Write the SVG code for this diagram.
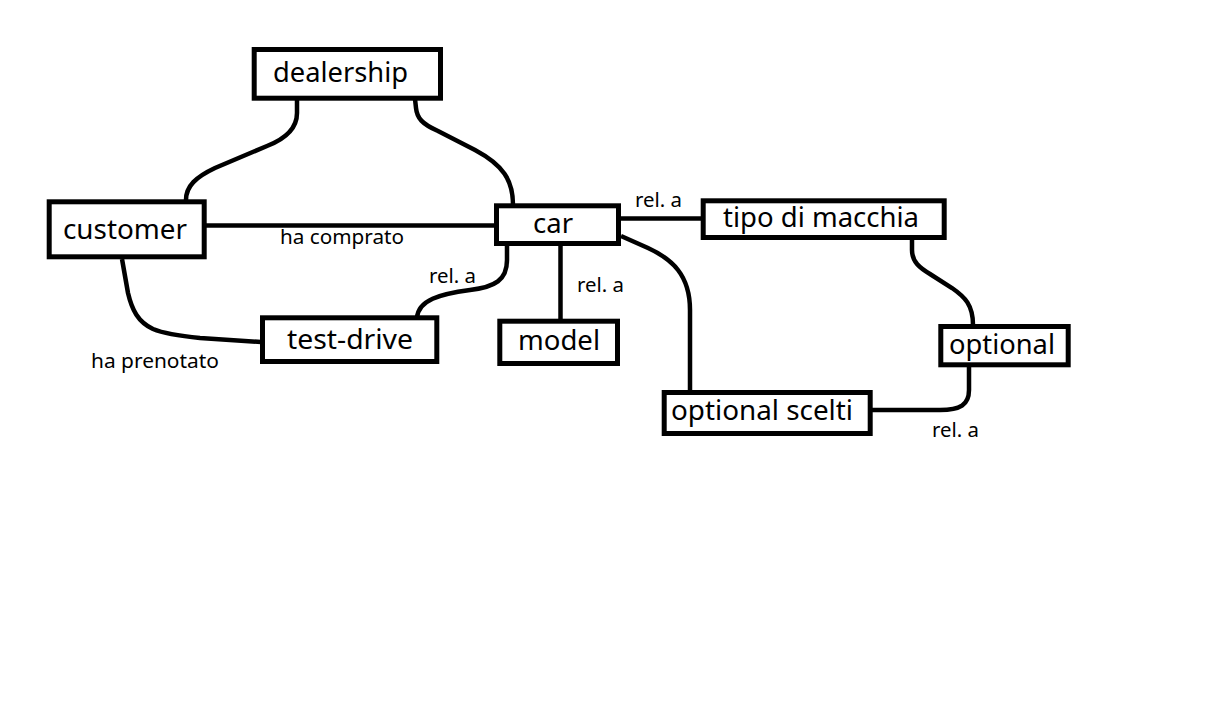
<svg xmlns="http://www.w3.org/2000/svg" width="1210" height="722" viewBox="0 0 1210 722">
<style>
.box{fill:#fff;stroke:#000;stroke-width:5}
.lbl{font-family:"Noto Sans","Open Sans",sans-serif;font-size:27px;fill:#000}
.sm{font-family:"Noto Sans","Open Sans",sans-serif;font-size:19px;fill:#000}
.c{fill:none;stroke:#000;stroke-width:4.5}
</style>
<rect width="1210" height="722" fill="#fff"/>
<g id="connectors">
<path class="c" d="M297,99 L297,113 C297,128 285,139 267,146 L215,168 C196,177 186,186 186,200"/>
<path class="c" d="M415,99 L416,108 C417,118 422,124 438,131 L475,150 C503,165 513,180 513,205"/>
<path class="c" d="M206,225.5 L494,225.5"/>
<path class="c" d="M122,259 L128,293 C132,310 138,322 153,329 C165,334 180,336 200,338 L261,342"/>
<path class="c" d="M507,246 L507,260 C507,280 495,287 470,290 C440,294 418,300 417,318"/>
<path class="c" d="M560.5,246 L560.5,319"/>
<path class="c" d="M621,218.5 L701,218.5"/>
<path class="c" d="M621,236 L648,248 C672,259 690,275 690,310 L690,392"/>
<path class="c" d="M912,239 L912,250 C912,262 920,268 930,274 L952,288 C965,297 973,305 973,325"/>
<path class="c" d="M969,367 L969,390 C969,405 960,410 940,410 L872,410"/>
</g>
<g id="labels">
<text class="sm" x="280" y="244" textLength="124" lengthAdjust="spacingAndGlyphs">ha comprato</text>
<text class="sm" x="91" y="368" textLength="128" lengthAdjust="spacingAndGlyphs">ha prenotato</text>
<text class="sm" x="635" y="207" textLength="47" lengthAdjust="spacingAndGlyphs">rel. a</text>
<text class="sm" x="429" y="283" textLength="47" lengthAdjust="spacingAndGlyphs">rel. a</text>
<text class="sm" x="577" y="292" textLength="47" lengthAdjust="spacingAndGlyphs">rel. a</text>
<text class="sm" x="932" y="437" textLength="47" lengthAdjust="spacingAndGlyphs">rel. a</text>
</g>
<g id="dealership"><rect class="box" x="254.2" y="49.5" width="186.3" height="48.7"/><text class="lbl" x="273" y="82" textLength="135" lengthAdjust="spacingAndGlyphs">dealership</text></g>
<g id="customer"><rect class="box" x="49.2" y="201.8" width="155" height="55"/><text class="lbl" x="63" y="239" textLength="124" lengthAdjust="spacingAndGlyphs">customer</text></g>
<g id="car"><rect class="box" x="496.5" y="205.8" width="122" height="37.7"/><text class="lbl" x="533" y="233" textLength="40" lengthAdjust="spacingAndGlyphs">car</text></g>
<g id="test-drive"><rect class="box" x="262.5" y="317.8" width="174.3" height="43.7"/><text class="lbl" x="287" y="349" textLength="126" lengthAdjust="spacingAndGlyphs">test-drive</text></g>
<g id="model"><rect class="box" x="499.8" y="321.2" width="117.7" height="42.3"/><text class="lbl" x="518" y="350" textLength="82" lengthAdjust="spacingAndGlyphs">model</text></g>
<g id="tipo-di-macchia"><rect class="box" x="703.2" y="200.8" width="241" height="36.7"/><text class="lbl" x="723" y="227" textLength="196" lengthAdjust="spacingAndGlyphs">tipo di macchia</text></g>
<g id="optional"><rect class="box" x="940.8" y="326.5" width="127.4" height="38.3"/><text class="lbl" x="949" y="354" textLength="106" lengthAdjust="spacingAndGlyphs">optional</text></g>
<g id="optional-scelti"><rect class="box" x="664.2" y="392.5" width="206" height="41"/><text class="lbl" x="671" y="420" textLength="182" lengthAdjust="spacingAndGlyphs">optional scelti</text></g>
</svg>
